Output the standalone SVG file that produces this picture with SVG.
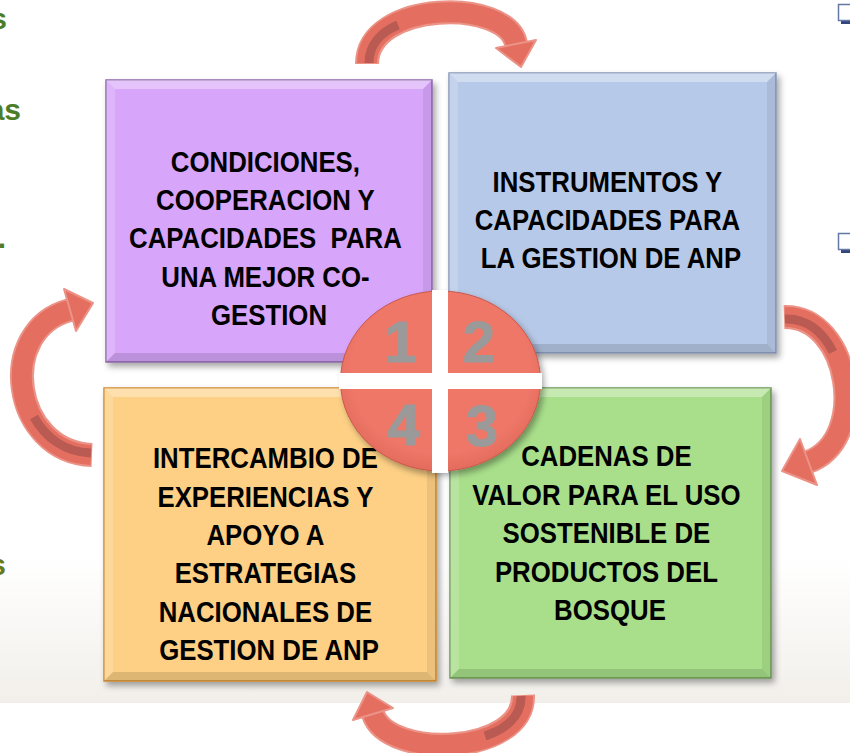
<svg xmlns="http://www.w3.org/2000/svg" width="850" height="753" viewBox="0 0 850 753">
<defs>
<style>
.lbl{font-family:"Liberation Sans",Arial,sans-serif;font-weight:bold;font-size:30px;fill:#000;text-anchor:middle}
.num{font-family:"Liberation Sans",Arial,sans-serif;font-weight:bold;font-size:58px;fill:#9A9A9A;stroke:#9A9A9A;stroke-width:1;text-anchor:middle}
.side{font-family:"Liberation Sans",Arial,sans-serif;font-weight:bold;font-size:30px;text-anchor:end}
.bl{fill:#fff;fill-opacity:.35}
.bl2{fill:#fff;fill-opacity:.18}
.bd{fill:#000;fill-opacity:.12}
.bd2{fill:#000;fill-opacity:.07}
.aout{fill:none;stroke:#EC9388;stroke-width:24}
.abody{fill:none;stroke:#E46F60;stroke-width:20}
.adark{fill:none;stroke:#B95B52;stroke-width:9}
.ahead{fill:#E46F60;stroke:#EC9388;stroke-width:2;stroke-linejoin:round}
</style>
<filter id="sh" x="-10%" y="-10%" width="130%" height="130%">
<feDropShadow dx="3" dy="4" stdDeviation="3" flood-color="#000" flood-opacity="0.35"/>
</filter>
<linearGradient id="band" x1="0" y1="0" x2="0" y2="1">
<stop offset="0" stop-color="#FFFFFF"/>
<stop offset="1" stop-color="#F2EFEA"/>
</linearGradient>
<radialGradient id="cg" cx="0.5" cy="0.45" r="0.6">
<stop offset="0.75" stop-color="#EE7768"/>
<stop offset="1" stop-color="#DE6658"/>
</radialGradient>
</defs>
<rect width="850" height="753" fill="#fff"/>
<rect x="0" y="560" width="850" height="143" fill="url(#band)"/>

<g id="side-text">
<text class="side" x="7" y="29" fill="#4E7D2A">s</text>
<text class="side" x="21" y="120" fill="#4E7D2A">as</text>
<text class="side" x="6" y="248" fill="#4E7D2A">.</text>
<text class="side" x="6" y="575" fill="#667A1E">s</text>
</g>

<g id="bullets">
<rect x="841" y="19" width="12" height="5" fill="#34457A"/>
<rect x="838.5" y="4.5" width="14" height="16" fill="#fff" stroke="#6478A8" stroke-width="1.5"/>
<rect x="841" y="248" width="12" height="5" fill="#34457A"/>
<rect x="838.5" y="233.5" width="14" height="16" fill="#fff" stroke="#6478A8" stroke-width="1.5"/>
</g>

<g id="box1">
<rect x="106" y="80" width="326" height="282" fill="#D7A5FA" stroke="#8E6AAA" stroke-width="1.5" filter="url(#sh)"/>
<polygon class="bl" points="106,80 432,80 423,89 115,89"/>
<polygon class="bl2" points="106,80 115,89 115,353 106,362"/>
<polygon class="bd" points="106,362 115,353 423,353 432,362"/>
<polygon class="bd2" points="432,80 432,362 423,353 423,89"/>
<text class="lbl" transform="translate(269,0) scale(0.86,1)">
<tspan x="0" y="172">CONDICIONES,</tspan>
<tspan x="0" y="210">COOPERACION Y</tspan>
<tspan x="0" y="248">CAPACIDADES&#160; PARA</tspan>
<tspan x="0" y="287">UNA MEJOR CO-</tspan>
<tspan x="0" y="325">GESTION</tspan>
</text>
</g>

<g id="box2">
<rect x="449" y="73" width="327" height="280" fill="#B7C9E8" stroke="#8796B8" stroke-width="1.5" filter="url(#sh)"/>
<polygon class="bl" points="449,73 776,73 767,82 458,82"/>
<polygon class="bl2" points="449,73 458,82 458,344 449,353"/>
<polygon class="bd" points="449,353 458,344 767,344 776,353"/>
<polygon class="bd2" points="776,73 776,353 767,344 767,82"/>
<text class="lbl" transform="translate(611,0) scale(0.86,1)">
<tspan x="0" y="192">INSTRUMENTOS Y</tspan>
<tspan x="0" y="230">CAPACIDADES PARA</tspan>
<tspan x="0" y="268">LA GESTION DE ANP</tspan>
</text>
</g>

<g id="box4">
<rect x="104" y="388" width="332" height="293" fill="#FDD085" stroke="#CF8A2E" stroke-width="1.5" filter="url(#sh)"/>
<polygon class="bl" points="104,388 436,388 427,397 113,397"/>
<polygon class="bl2" points="104,388 113,397 113,672 104,681"/>
<polygon class="bd" points="104,681 113,672 427,672 436,681"/>
<polygon class="bd2" points="436,388 436,681 427,672 427,397"/>
<text class="lbl" transform="translate(269,0) scale(0.86,1)">
<tspan x="0" y="468">INTERCAMBIO DE</tspan>
<tspan x="0" y="507">EXPERIENCIAS Y</tspan>
<tspan x="0" y="545">APOYO A</tspan>
<tspan x="0" y="583">ESTRATEGIAS</tspan>
<tspan x="0" y="622">NACIONALES DE</tspan>
<tspan x="0" y="660">GESTION DE ANP</tspan>
</text>
</g>

<g id="box3">
<rect x="450" y="388" width="321" height="290" fill="#A9DF8B" stroke="#6E9A55" stroke-width="1.5" filter="url(#sh)"/>
<polygon class="bl" points="450,388 771,388 762,397 459,397"/>
<polygon class="bl2" points="450,388 459,397 459,669 450,678"/>
<polygon class="bd" points="450,678 459,669 762,669 771,678"/>
<polygon class="bd2" points="771,388 771,678 762,669 762,397"/>
<text class="lbl" transform="translate(610,0) scale(0.86,1)">
<tspan x="0" y="466">CADENAS DE</tspan>
<tspan x="0" y="505">VALOR PARA EL USO</tspan>
<tspan x="0" y="543">SOSTENIBLE DE</tspan>
<tspan x="0" y="582">PRODUCTOS DEL</tspan>
<tspan x="0" y="620">BOSQUE</tspan>
</text>
</g>

<g id="center">
<ellipse cx="440.5" cy="381" rx="100" ry="90" fill="url(#cg)" stroke="#C9584C" stroke-width="1" filter="url(#sh)"/>
<rect x="432" y="290" width="16" height="183" fill="#fff"/>
<rect x="339" y="373" width="203" height="16" fill="#fff"/>
<text class="num" x="401" y="362">1</text>
<text class="num" x="479" y="362">2</text>
<text class="num" x="404" y="445">4</text>
<text class="num" x="482" y="446">3</text>
</g>

<g id="connectors">
<g id="arrow-top">
<path class="aout" d="M367 64 C367 0 508 -2 516 44"/>
<path class="abody" d="M367 63 C367 0 508 -2 516 44"/>
<path class="adark" d="M369 63 C369 44.8 381 32 398 25"/>
<polygon class="ahead" points="536,40 521,67 496,48"/>
</g>
<g id="arrow-right">
<path class="aout" d="M784 317 C850 315 870 440 808 462"/>
<path class="abody" d="M785 317 C850 315 870 440 808 462"/>
<path class="adark" d="M785 319 C807 318.3 823 332 833 352"/>
<polygon class="ahead" points="817,485 782,471 800,439"/>
</g>
<g id="arrow-bottom">
<path class="aout" d="M523 695 C525 755 388 760 373 714"/>
<path class="abody" d="M523 696 C525 755 388 760 373 714"/>
<path class="adark" d="M521 696 C521.7 716 506 729 485 736"/>
<polygon class="ahead" points="393,708 367,692 353,720"/>
</g>
<g id="arrow-left">
<path class="aout" d="M92 455 C12 452 -5 330 70 310"/>
<path class="abody" d="M91 455 C12 452 -5 330 70 310"/>
<path class="adark" d="M91 453 C64 452 45 437 34 417"/>
<polygon class="ahead" points="76,331 93,303 64,289"/>
</g>
</g>
</svg>
